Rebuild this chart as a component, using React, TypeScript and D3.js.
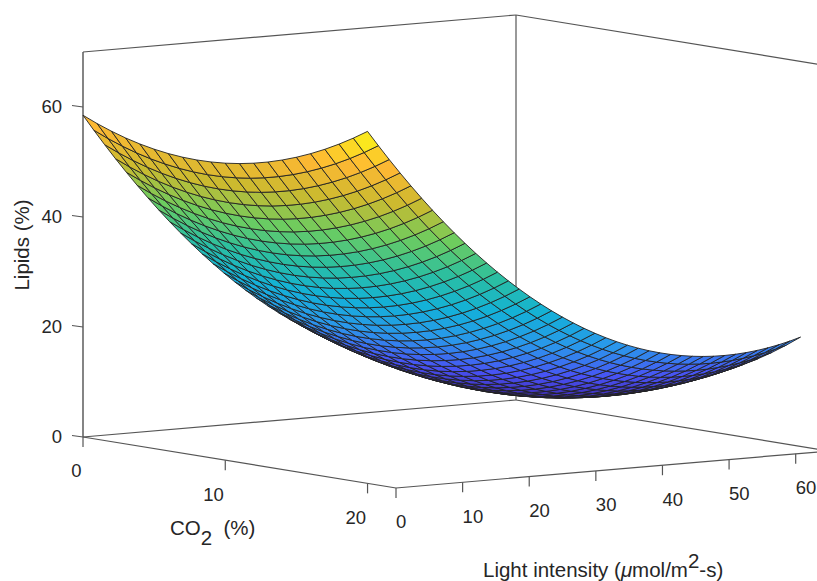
import React from 'react';
import * as d3 from 'd3';

// scratch pass: checks projection and surface shape before the table is typed out
const co2Grid = d3.range(0, 21);
const lightGrid = d3.range(0, 41).map(i => i * 1.625);
const lipids = lightGrid.map(l => co2Grid.map(c => 58.5 - 1.175 * c + 0.0725 * c * c + (-1.802 + 0.0035 * c) * l + 0.0162 * l * l));

const co2Ticks = [0, 10, 20];
const lightTicks = [0, 10, 20, 30, 40, 50, 60];
const lipidTicks = [0, 20, 40, 60];
const parula = ['#3e26a8', '#4852f4', '#2b96eb', '#13b1d8', '#2bbfa0', '#6dcc5f', '#cbba2f', '#feb833', '#f9fb15'];

const co2X = d3.scaleLinear().domain([0, 22]).range([0, 313]);
const co2Y = d3.scaleLinear().domain([0, 22]).range([0, 51]);
const lightX = d3.scaleLinear().domain([0, 65]).range([0, 433]);
const lightY = d3.scaleLinear().domain([0, 65]).range([0, -37]);
const zY = d3.scaleLinear().domain([0, 70]).range([0, -385]);
const colour = d3.scaleSequential(d3.piecewise(d3.interpolateRgb, parula)).domain([6, 64]);

const proj = (c: number, l: number, z: number): [number, number] => [83 + co2X(c) + lightX(l), 437 + co2Y(c) + lightY(l) + zY(z)];
const depth = (c: number, l: number, z: number) => 19.5 * c - 4.78 * l + 0.654 * z;
const lineOf = d3.line();

const cells: { d: string; fill: string; depth: number }[] = [];
for (let i = 0; i < lightGrid.length - 1; i++) {
  for (let j = 0; j < co2Grid.length - 1; j++) {
    const corners: [number, number, number][] = [
      [co2Grid[j], lightGrid[i], lipids[i][j]],
      [co2Grid[j + 1], lightGrid[i], lipids[i][j + 1]],
      [co2Grid[j + 1], lightGrid[i + 1], lipids[i + 1][j + 1]],
      [co2Grid[j], lightGrid[i + 1], lipids[i + 1][j]],
    ];
    const zMean = d3.mean(corners, p => p[2]) as number;
    cells.push({
      d: lineOf(corners.map(p => proj(p[0], p[1], p[2]))) + 'Z',
      fill: colour(zMean),
      depth: depth(d3.mean(corners, p => p[0]) as number, d3.mean(corners, p => p[1]) as number, zMean),
    });
  }
}
cells.sort((a, b) => a.depth - b.depth);

const seg = (a: [number, number], b: [number, number], w = 1.2, col = '#555') => (
  <line x1={a[0]} y1={a[1]} x2={b[0]} y2={b[1]} stroke={col} strokeWidth={w} />
);

export default function App() {
  const font = { fontFamily: 'Liberation Sans, Arial, sans-serif', fill: '#262626' };
  return (
    <svg width={817} height={581} style={{ position: 'absolute', left: 0, top: 0 }}>
      {seg(proj(0, 0, 0), proj(0, 0, 70), 1.6, '#666')}
      {seg(proj(0, 0, 70), proj(0, 65, 70))}
      {seg(proj(0, 65, 0), proj(0, 65, 70))}
      {seg(proj(0, 65, 70), proj(22, 65, 70))}
      {seg(proj(0, 0, 0), proj(0, 65, 0))}
      {seg(proj(0, 65, 0), proj(22, 65, 0))}
      {seg(proj(0, 0, 0), proj(22, 0, 0))}
      {seg(proj(22, 0, 0), proj(22, 65, 0))}
      {cells.map((c, i) => <path key={i} d={c.d} fill={c.fill} stroke="#222" strokeWidth={0.9} strokeLinejoin="round" />)}
      {lipidTicks.map(t => {
        const [x, y] = proj(0, 0, t);
        return <g key={t}>
          <line x1={x - 11} y1={y - 1.5} x2={x} y2={y} stroke="#555" strokeWidth={1.2} />
          <text x={62} y={y} dy="0.35em" textAnchor="end" fontSize={18.5} {...font}>{t}</text>
        </g>;
      })}
      {co2Ticks.map(t => {
        const [x, y] = proj(t, 0, 0);
        return <g key={t}>
          <line x1={x} y1={y} x2={x} y2={y + 10} stroke="#555" strokeWidth={1.2} />
          <text x={x - 1.5} y={y + 34} dy="0.35em" textAnchor="end" fontSize={18.5} {...font}>{t}</text>
        </g>;
      })}
      {lightTicks.map(t => {
        const [x, y] = proj(22, t, 0);
        return <g key={t}>
          <line x1={x} y1={y} x2={x} y2={y + 10} stroke="#555" strokeWidth={1.2} />
          <text x={x} y={y + 34} dy="0.35em" textAnchor="start" fontSize={18.5} {...font}>{t}</text>
        </g>;
      })}
      <text transform="translate(29,245) rotate(-90)" textAnchor="middle" fontSize={20.5} {...font}>Lipids (%)</text>
      <text x={170} y={535} fontSize={20.5} {...font}>CO<tspan fontSize={20.5} dy={10}>2</tspan><tspan dy={-10} xmlSpace="preserve">  (%)</tspan></text>
      <text x={483} y={577} fontSize={20.5} {...font}>Light intensity (<tspan fontStyle="italic">μ</tspan>mol/m<tspan dy={-9}>2</tspan><tspan dy={9}>-s)</tspan></text>
    </svg>
  );
}
